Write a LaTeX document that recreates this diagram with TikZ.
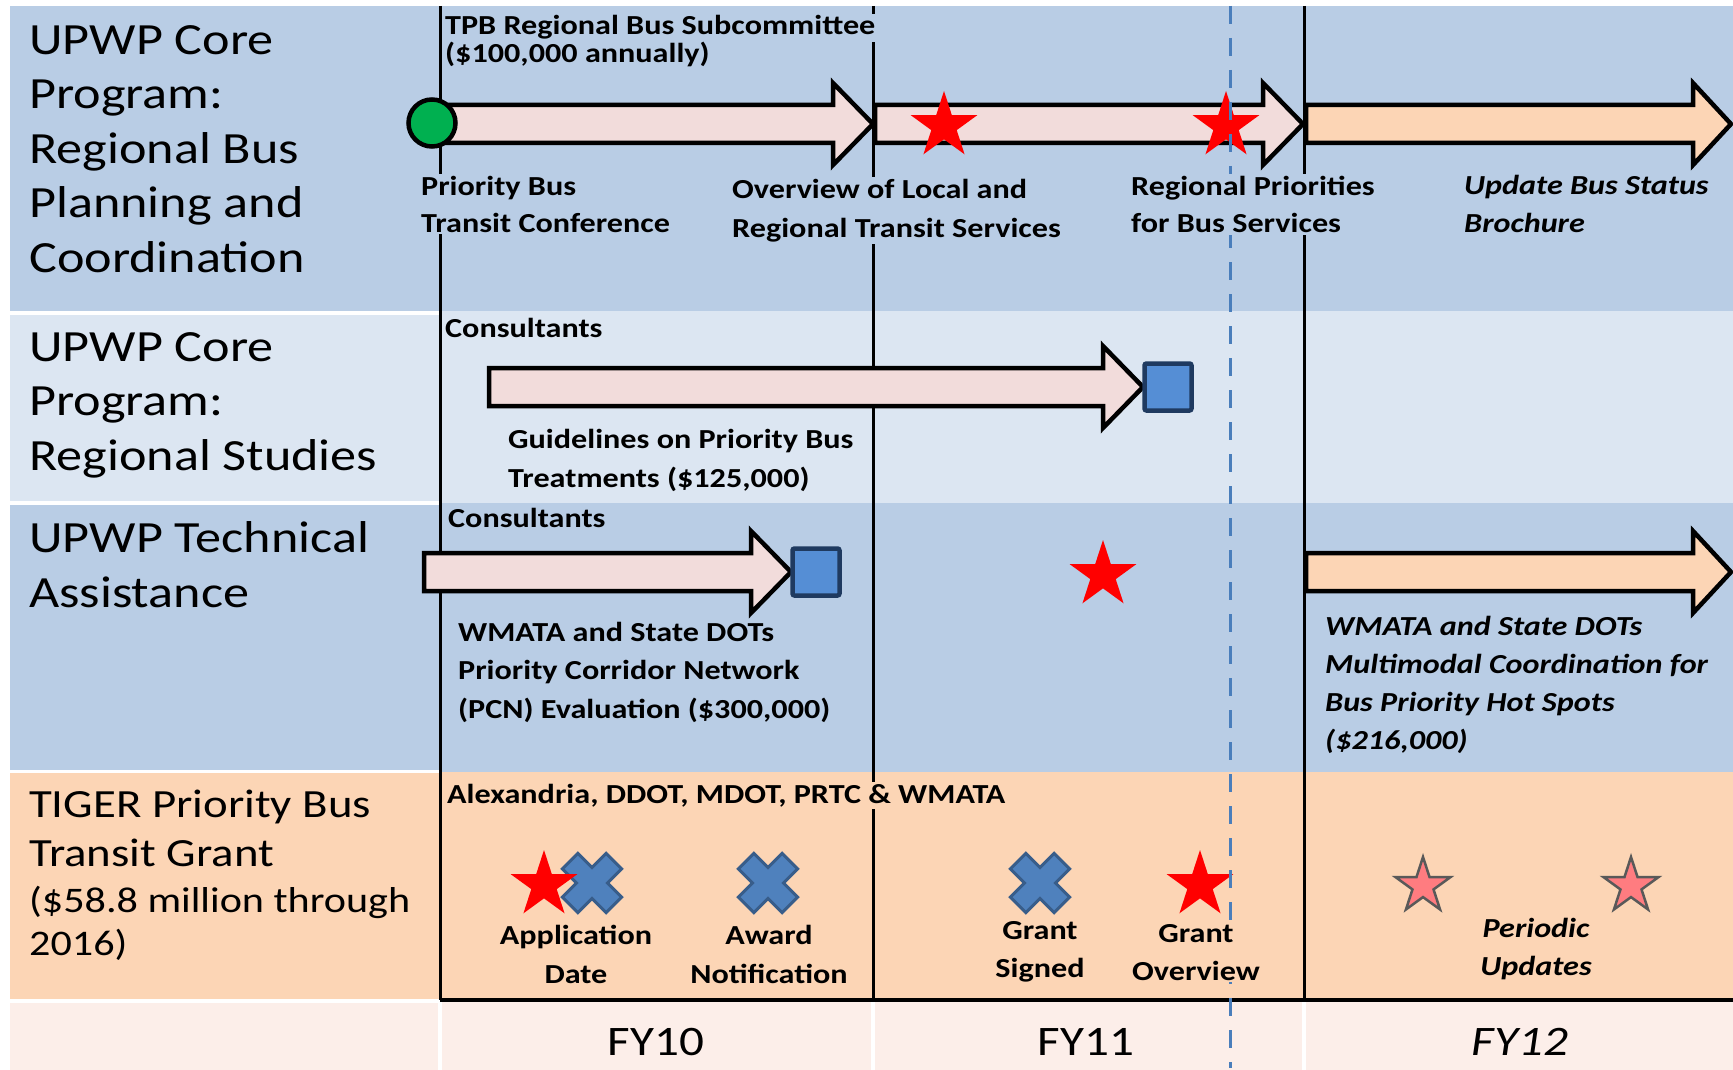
\documentclass[tikz,border=0pt]{standalone}
\usepackage{fontspec}
\setmainfont{Carlito}[FakeStretch=1.17]
\usetikzlibrary{shapes.geometric}
\definecolor{rowdark}{HTML}{B9CDE5}
\definecolor{rowlight}{HTML}{DCE6F2}
\definecolor{peach}{HTML}{FCD5B5}
\definecolor{pale}{HTML}{FCEEE9}
\definecolor{arrowpink}{HTML}{F2DCDB}
\definecolor{dashblue}{HTML}{4A7EBB}
\definecolor{sqfill}{HTML}{558ED5}
\definecolor{sqdraw}{HTML}{1F3A60}
\definecolor{xfill}{HTML}{4F81BD}
\definecolor{xdraw}{HTML}{385D8A}
\definecolor{pinkstar}{HTML}{FF7C80}
\definecolor{confgreen}{HTML}{00B050}
\newcommand\fsz[2]{\fontsize{#1}{#2}\selectfont}
\newcommand\bkarrow[5]{% style, tail x, tip x, center y, head length
  \draw[#1] (#2,#4-19) -- (#3-#5,#4-19) -- (#3-#5,#4-41) -- (#3,#4) -- (#3-#5,#4+41) -- (#3-#5,#4+19) -- (#2,#4+19) -- cycle;}
\tikzset{
  blockarr/.style={draw=black, line width=4.5pt, fill=arrowpink},
  orangearr/.style={draw=black, line width=4.5pt, fill=peach},
  vline/.style={draw=black, line width=3pt},
  redstar/.style={star, star points=5, star point ratio=2.618, fill=red, inner sep=0pt, minimum size=70pt},
  pstar/.style={star, star points=5, star point ratio=2.618, fill=pinkstar, draw=black!65, line width=2.5pt, inner sep=0pt, minimum size=58pt},
  bsquare/.style={rectangle, rounded corners=2pt, fill=sqfill, draw=sqdraw, line width=4.5pt, minimum width=47pt, minimum height=47pt, inner sep=0pt},
  rowlabel/.style={anchor=base west, align=left, inner sep=0pt, font=\fsz{44.6}{54.5}},
  evt/.style={anchor=base west, align=left, inner sep=2pt, font=\bfseries\fsz{27.5}{38}},
  evtc/.style={anchor=base, align=center, inner sep=2pt, font=\bfseries\fsz{27.5}{39}},
  fy/.style={anchor=base, inner sep=0pt, font=\fsz{42}{50}},
  xcross/.pic={\draw[fill=xfill, draw=xdraw, line width=3pt, rotate=45]
    (11,31) -- (11,11) -- (31,11) -- (31,-11) -- (11,-11) -- (11,-31) -- (-11,-31) -- (-11,-11) -- (-31,-11) -- (-31,11) -- (-11,11) -- (-11,31) -- cycle;}
}
\begin{document}
\begin{tikzpicture}[x=1pt, y=-1pt]
\useasboundingbox (0,0) rectangle (1733,1070);
\fill[white] (0,0) rectangle (1733,1070);
% row backgrounds
\fill[rowdark] (10,6) rectangle (1733,311);
\fill[rowlight] (10,311) rectangle (1733,503);
\fill[rowdark] (10,503) rectangle (1733,772);
\fill[peach] (10,772) rectangle (1733,1000);
\fill[pale] (10,1001) rectangle (1733,1070);
% white cell separators in label column and bottom row
\fill[white] (10,311) rectangle (440,315);
\fill[white] (10,501) rectangle (440,505);
\fill[white] (10,770) rectangle (440,773);
\fill[white] (10,999) rectangle (440,1003);
\fill[white] (438,1001) rectangle (442,1070);
\fill[white] (871,1001) rectangle (875,1070);
\fill[white] (1302,1001) rectangle (1306,1070);
% black grid lines
\coordinate (g1t) at (440,6);   \coordinate (g1b) at (440,1000);
\coordinate (g2t) at (873,6);   \coordinate (g2b) at (873,1000);
\coordinate (g3t) at (1304,6);  \coordinate (g3b) at (1304,1000);
\coordinate (hbl) at (440,1000); \coordinate (hbr) at (1733,1000);
\draw[vline] (g1t) -- (g1b);
\draw[vline] (g2t) -- (g2b);
\draw[vline] (g3t) -- (g3b);
\draw[black, line width=3.5pt] (hbl) -- (hbr);
% block arrows
\bkarrow{blockarr}{432}{873}{124}{40}
\bkarrow{blockarr}{875}{1303}{124}{40}
\bkarrow{orangearr}{1306}{1731}{124}{38}
\bkarrow{blockarr}{489}{1143}{387}{40}
\bkarrow{blockarr}{424}{791}{572}{40}
\bkarrow{orangearr}{1306}{1731}{572}{38}
% markers
\node[circle, fill=confgreen, draw=black, line width=4.5pt, minimum size=47pt, inner sep=0pt] (conf) at (432,123) {};
\node[bsquare] (sq1) at (1168,387) {};
\node[bsquare] (sq2) at (816,572) {};
\node[redstar] (s1) at (944,126) {};
\node[redstar] (s2) at (1226,126) {};
\node[redstar] (s3) at (1103,575) {};
\pic at (592,883) {xcross};
\pic at (768,883) {xcross};
\pic at (1040,883) {xcross};
\node[redstar] (s4) at (544,885) {};
\node[redstar] (s5) at (1200,885) {};
\node[pstar] (p1) at (1423,886) {};
\node[pstar] (p2) at (1631,886) {};
% dashed line
\coordinate (dt) at (1230,6); \coordinate (db) at (1230,1068);
\draw[dashblue, line width=3pt, dash pattern=on 18pt off 14pt] (dt) -- (db);
% row labels (anchored at the baseline of the last line)
\node[rowlabel] (l1) at (29,272) {UPWP Core\\Program:\\Regional Bus\\Planning and\\Coordination};
\node[rowlabel] (l2) at (29,470) {UPWP Core\\Program:\\Regional Studies};
\node[rowlabel] (l3) at (29,607) {UPWP Technical\\Assistance};
\node[rowlabel, font=\fsz{40}{49}] (l4) at (29,866) {TIGER Priority Bus\\Transit Grant};
\node[rowlabel, font=\fsz{36}{43}] (l4b) at (29,955) {(\$58.8 million through\\2016)};
% event texts (anchored at the baseline of the last line)
\node[evt, fill=rowdark] (tpb) at (443,35) {TPB Regional Bus Subcommittee};
\node[evt] (tpb2) at (443,63) {(\$100,000 annually)};
\node[evt, fill=rowdark, font=\bfseries\fsz{27.5}{37}] (pbtc) at (419,232) {Priority Bus\\Transit Conference};
\node[evt, fill=rowdark, font=\bfseries\fsz{27.5}{39}] (ovw) at (730,237) {Overview of Local and\\Regional Transit Services};
\node[evt, fill=rowdark] (rpb) at (1129,233) {Regional Priorities\\for Bus Services};
\node[evt, font=\bfseries\itshape\fsz{27.5}{39}] (ubs) at (1462,233) {Update Bus Status\\Brochure};
\node[evt] (cons1) at (443,337) {Consultants};
\node[evt, font=\bfseries\fsz{27.5}{39}] (guide) at (506,487) {Guidelines on Priority Bus\\Treatments (\$125,000)};
\node[evt] (cons2) at (446,527) {Consultants};
\node[evt, font=\bfseries\fsz{27.5}{38.5}] (pcn) at (456,718) {WMATA and State DOTs\\Priority Corridor Network\\(PCN) Evaluation (\$300,000)};
\node[evt, font=\bfseries\itshape\fsz{27.5}{38}] (mmc) at (1323,749) {WMATA and State DOTs\\Multimodal Coordination for\\Bus Priority Hot Spots\\(\$216,000)};
\node[evt, fill=peach] (alex) at (445,803) {Alexandria, DDOT, MDOT, PRTC \& WMATA};
\node[evtc] (appd) at (576,983) {Application\\Date};
\node[evtc] (award) at (769,983) {Award\\Notification};
\node[evtc, font=\bfseries\fsz{27.5}{38}] (gsig) at (1040,977) {Grant\\Signed};
\node[evtc, fill=peach, font=\bfseries\fsz{27.5}{38}] (gov) at (1196,980) {Grant\\Overview};
\node[evtc, font=\bfseries\itshape\fsz{27.5}{38}] (per) at (1536,975) {Periodic\\Updates};
% fiscal years
\node[fy] (fy10) at (656,1055) {FY10};
\node[fy] (fy11) at (1086,1055) {FY11};
\node[fy, font=\itshape\fsz{42}{50}] (fy12) at (1520,1055) {FY12};
\end{tikzpicture}
\end{document}
